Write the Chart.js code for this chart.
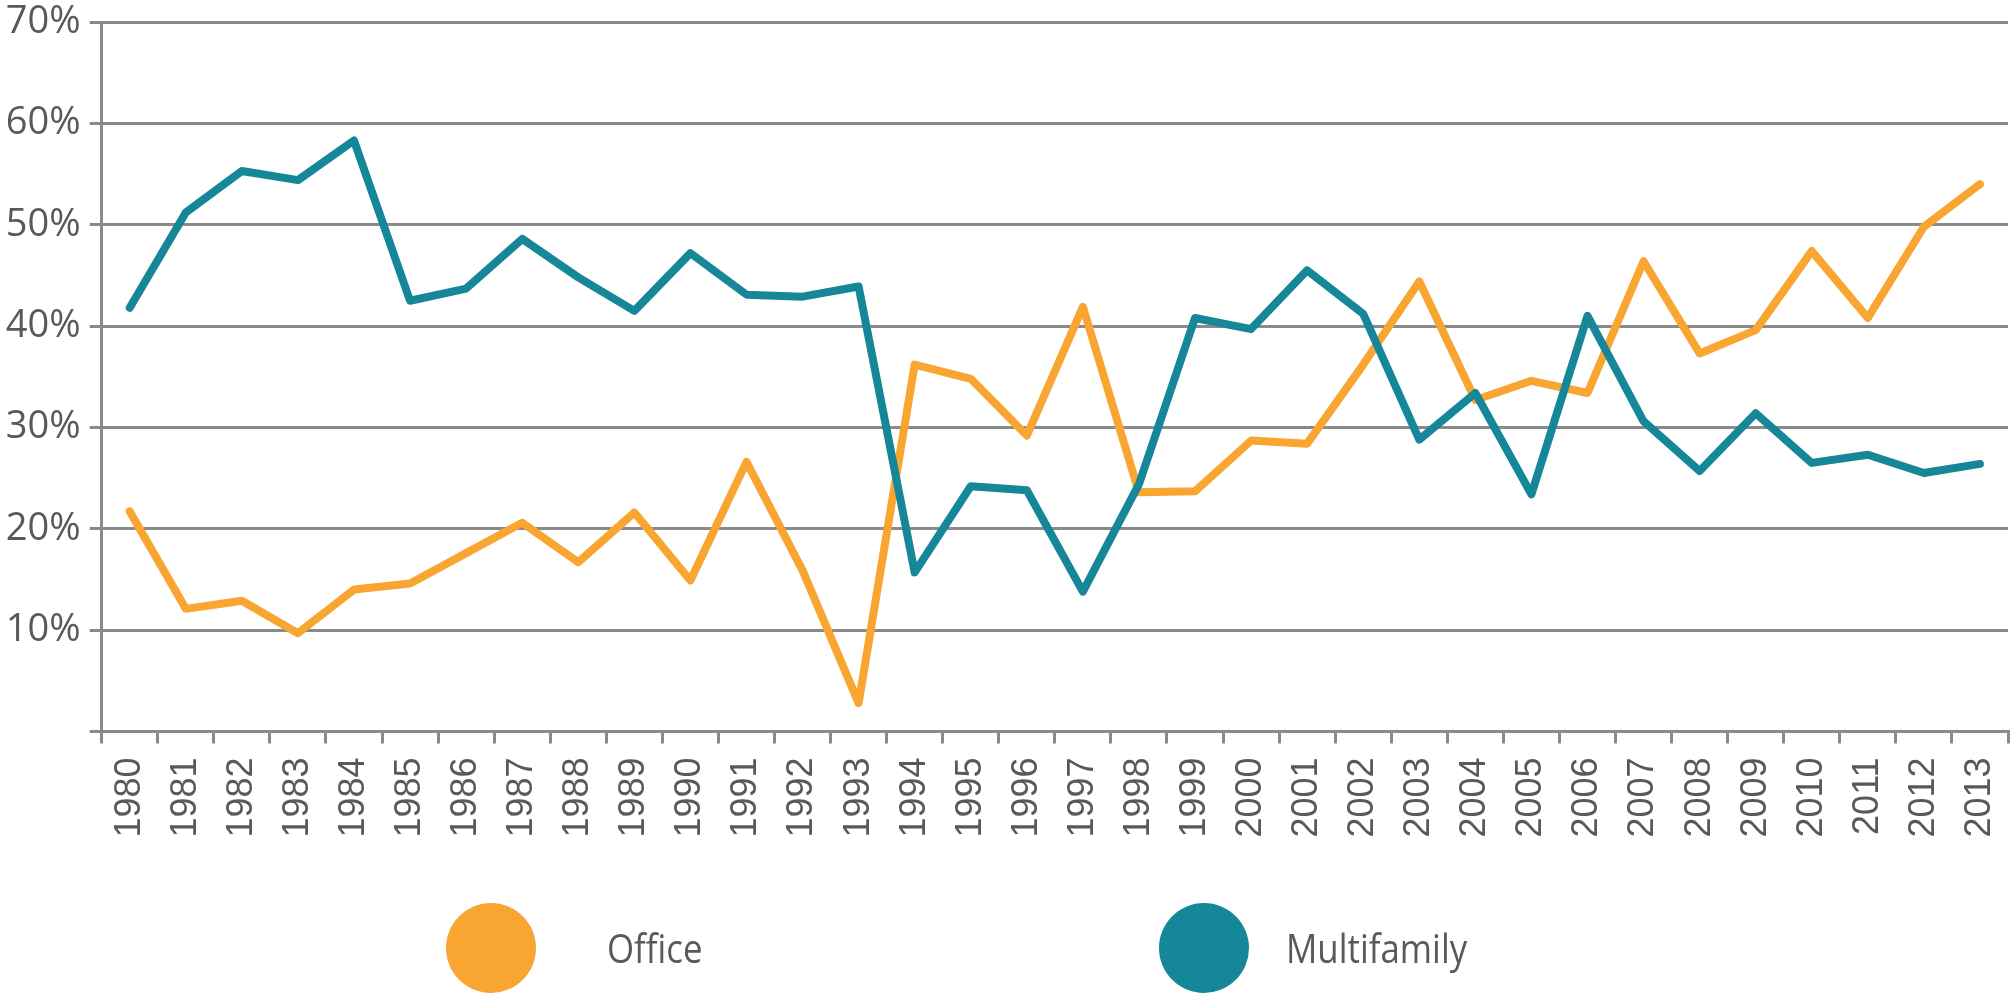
<!DOCTYPE html>
<html>
<head>
<meta charset="utf-8">
<script src="https://cdn.jsdelivr.net/npm/chart.js@4.4.0/dist/chart.umd.min.js"></script>
<style>
  body { margin: 0; background: #fff; }
  #wrap { width: 2013px; height: 993px; position: relative; }
</style>
</head>
<body>
<div id="wrap"><canvas id="myChart"></canvas></div>
<script>
const anos = ['1980','1981','1982','1983','1984','1985','1986','1987','1988','1989','1990','1991','1992','1993','1994','1995','1996',
  '1997','1998','1999','2000','2001','2002','2003','2004','2005','2006','2007','2008','2009','2010','2011','2012','2013'];
const office = [21.7,12.1,12.9,9.7,14.0,14.6,17.6,20.6,16.7,21.6,14.9,26.6,15.9,2.8,36.2,34.8,29.2,
  41.9,23.6,23.7,28.7,28.4,36.2,44.4,32.7,34.6,33.4,46.4,37.3,39.6,47.4,40.8,49.8,54.0];
const multifamily = [41.8,51.2,55.3,54.4,58.3,42.5,43.7,48.6,44.8,41.5,47.2,43.1,42.9,43.9,15.7,24.2,23.8,
  13.8,24.4,40.8,39.7,45.5,41.2,28.8,33.4,23.4,41.0,30.6,25.7,31.4,26.5,27.3,25.5,26.4];
const nomes = ['Office', 'Multifamily'];
const cores = ['#f8a532', '#168799'];
const CINZA = '#8a8a8a';
const TEXTO = '#595959';

// legenda desenhada a mao, bolinhas grandes em baixo
const legendaPlugin = {
  id: 'legendaBolas',
  afterDraw(chart) {
    const c = chart.ctx;
    const bolaX = [491, 1204];
    const textoX = [607, 1286];
    c.save();
    for (var i = 0; i < nomes.length; i++) {
      c.beginPath();
      c.fillStyle = cores[i];
      c.arc(bolaX[i], 948, 45, 0, Math.PI * 2);
      c.fill();
      c.save();
      c.translate(textoX[i], 963);
      c.scale(0.85, 1);
      c.fillStyle = TEXTO;
      c.font = '41px "Open Sans", sans-serif';
      c.textBaseline = 'alphabetic';
      c.fillText(nomes[i], 0, 0);
      c.restore();
    }
    c.restore();
  }
};

var ctx = document.getElementById('myChart').getContext('2d');
chart = new Chart(ctx, {
    type: 'line',
    data: {
        labels: anos,
        datasets: [
          {
            label: nomes[0],
            data: office,
            borderColor: cores[0],
            backgroundColor: cores[0],
            borderWidth: 8,
            pointRadius: 0,
            borderJoinStyle: 'round',
            borderCapStyle: 'round',
            order: 1
          },
          {
            label: nomes[1],
            data: multifamily,
            borderColor: cores[1],
            backgroundColor: cores[1],
            borderWidth: 8,
            pointRadius: 0,
            borderJoinStyle: 'round',
            borderCapStyle: 'round',
            order: 0
          }
        ]
    },
    options:
    {
      responsive: true,
      maintainAspectRatio: false,
      animation: false,
      layout: { padding: { top: 22, right: 5, left: 0, bottom: 131.5 } },
      plugins: {
        legend: { display: false },
        tooltip: { enabled: false }
      },
      scales: {
        x: {
          offset: true,
          afterFit: function(s) { s.height = 130; s.paddingLeft = 0; s.paddingRight = 0; },
          grid: { drawOnChartArea: false, drawTicks: true, tickLength: 12, color: CINZA, lineWidth: 3, offset: true },
          border: { display: true, color: CINZA, width: 3 },
          ticks: {
            autoSkip: false,
            maxRotation: 90,
            minRotation: 90,
            padding: 14,
            color: TEXTO,
            font: { family: '"Liberation Sans", Arial, sans-serif', size: 36 }
          }
        },
        y: {
          min: 0,
          max: 70,
          afterFit: function(s) { s.width = 101.7; s.paddingTop = 0; s.paddingBottom = 0; },
          grid: { drawTicks: true, tickLength: 12, color: CINZA, lineWidth: 3 },
          border: { display: true, color: CINZA, width: 3 },
          ticks: {
            stepSize: 10,
            padding: 9,
            color: TEXTO,
            font: { family: '"Open Sans", sans-serif', size: 38 },
            callback: function(v) { return v === 0 ? '' : v + '%'; }
          }
        }
      }
    },
    plugins: [legendaPlugin]
});
</script>
</body>
</html>
